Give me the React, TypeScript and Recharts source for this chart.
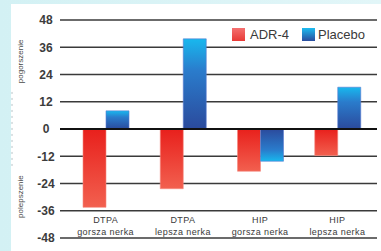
import React from 'react';
import { BarChart, Bar, XAxis, YAxis, CartesianGrid, ReferenceLine, Cell } from 'recharts';

const categoryLine1 = ['DTPA', 'DTPA', 'HIP', 'HIP'];
const categoryLine2 = ['gorsza nerka', 'lepsza nerka', 'gorsza nerka', 'lepsza nerka'];
const adr4Values = [-34.5, -26.3, -18.6, -11.7];
const placeboValues = [8, 39.7, -14.2, 18.4];
const yTicks = [-48, -36, -24, -12, 0, 12, 24, 36, 48];
const seriesNames = ['ADR-4', 'Placebo'];
const sideLabels = ['pogorszenie', 'polepszenie'];

const data = categoryLine1.map((c, i) => ({
  key: c + ' ' + categoryLine2[i],
  line1: c,
  line2: categoryLine2[i],
  adr4: adr4Values[i],
  placebo: placeboValues[i],
}));

const FONT = '"Liberation Sans", Arial, sans-serif';

const XTick = (props: any) => {
  const { x, y, index } = props;
  return (
    <g>
      <text x={x} y={y - 15} textAnchor="middle" fontSize={9} letterSpacing={0.4} fill="#3a3a3a" fontFamily={FONT}>
        {categoryLine1[index]}
      </text>
      <text x={x} y={y - 3} textAnchor="middle" fontSize={9} letterSpacing={0.4} fill="#3a3a3a" fontFamily={FONT}>
        {categoryLine2[index]}
      </text>
    </g>
  );
};

const YTick = (props: any) => {
  const { x, y, payload } = props;
  return (
    <text x={x} y={y} dy="0.36em" textAnchor="middle" fontSize={12} fontWeight="bold" fill="#3c3c3c" fontFamily={FONT}>
      {payload.value}
    </text>
  );
};

const SideLabels = (props: any) => {
  const vb = props.viewBox || {};
  const top = vb.y ?? 20;
  const h = vb.height ?? 218;
  const cx = 21;
  const y1 = top + h * 0.19;
  const y2 = top + h * 0.81;
  return (
    <g>
      <line x1={12} x2={12} y1={top + h * 0.33} y2={top + h * 0.67} stroke="#b8c4c8" strokeWidth={1} strokeDasharray="2 4" />
      <text x={cx} y={y1} transform={`rotate(-90 ${cx} ${y1})`} textAnchor="middle" dominantBaseline="central" fontSize={8} fill="#4a4a4a" fontFamily={FONT}>
        {sideLabels[0]}
      </text>
      <text x={cx} y={y2} transform={`rotate(-90 ${cx} ${y2})`} textAnchor="middle" dominantBaseline="central" fontSize={8} fill="#4a4a4a" fontFamily={FONT}>
        {sideLabels[1]}
      </text>
    </g>
  );
};

const LegendBox = () => (
  <div style={{ position: 'absolute', left: 232, top: 28, display: 'flex', alignItems: 'center', fontFamily: FONT, fontSize: 13, lineHeight: '13px', color: '#3a3a3a' }}>
    <div style={{ width: 13, height: 13, background: 'linear-gradient(#f47070, #e83a36)' }} />
    <span style={{ marginLeft: 5, marginRight: 13 }}>{seriesNames[0]}</span>
    <div style={{ width: 13, height: 13, background: 'linear-gradient(#1cbcf0, #2a4c9e)' }} />
    <span style={{ marginLeft: 3 }}>{seriesNames[1]}</span>
  </div>
);

export default function App() {
  return (
    <div style={{ position: 'fixed', left: 0, top: 0, width: 381, height: 251, background: 'linear-gradient(90deg, #d3f1f4, #e2f6f8)', overflow: 'hidden' }}>
      <div style={{ position: 'absolute', left: 11, top: 4, right: 0, bottom: 0, background: '#ffffff' }} />
      <div style={{ position: 'absolute', left: 0, top: 0 }}>
        <BarChart width={381} height={251} data={data} margin={{ top: 20, right: 4, bottom: 12, left: 0 }} barGap={0} barSize={23}>
          <defs>
            <linearGradient id="redGrad" x1="0" y1="0" x2="0" y2="1">
              <stop offset="0%" stopColor="#e8201c" />
              <stop offset="100%" stopColor="#f2604f" />
            </linearGradient>
            <linearGradient id="bluePos" x1="0" y1="0" x2="0" y2="1">
              <stop offset="0%" stopColor="#18b8ee" />
              <stop offset="35%" stopColor="#2a7ccc" />
              <stop offset="100%" stopColor="#2b4a9c" />
            </linearGradient>
            <linearGradient id="blueNeg" x1="0" y1="0" x2="0" y2="1">
              <stop offset="0%" stopColor="#2b4a9c" />
              <stop offset="65%" stopColor="#2a7ccc" />
              <stop offset="100%" stopColor="#18b8ee" />
            </linearGradient>
          </defs>
          <CartesianGrid vertical={false} stroke="#3a3a3a" strokeWidth={1.5} />
          <XAxis dataKey="key" height={1} axisLine={false} tickLine={false} tickSize={0} tickMargin={0} tick={<XTick />} interval={0} padding={{ left: 7, right: 1 }} />
          <YAxis domain={[-48, 48]} ticks={yTicks} width={60} axisLine={false} tickLine={false} tickSize={0} tickMargin={14} tick={<YTick />} interval={0} label={<SideLabels />} />
          <Bar dataKey="adr4" name={seriesNames[0]} fill="url(#redGrad)" isAnimationActive={false} stroke="#f58a80" strokeWidth={0.6} />
          <Bar dataKey="placebo" name={seriesNames[1]} isAnimationActive={false} stroke="#5a7ad0" strokeWidth={0.6}>
            {data.map((d, i) => (
              <Cell key={i} fill={d.placebo >= 0 ? 'url(#bluePos)' : 'url(#blueNeg)'} />
            ))}
          </Bar>
          <ReferenceLine y={0} stroke="#111111" strokeWidth={2.2} />
        </BarChart>
      </div>
      <LegendBox />
    </div>
  );
}
